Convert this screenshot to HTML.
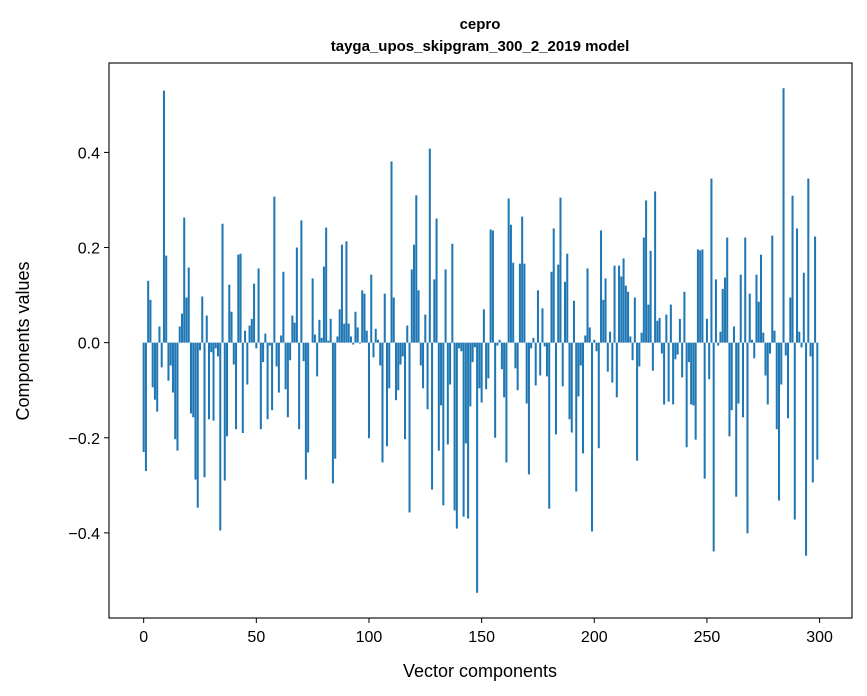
<!DOCTYPE html>
<html><head><meta charset="utf-8"><style>
body{margin:0;background:#fff;}
svg{display:block;font-family:"Liberation Sans","DejaVu Sans",sans-serif;}
</style></head><body>
<svg id="chart" width="867" height="696">
<rect x="0" y="0" width="867" height="696" fill="#fff"/>
<text x="480" y="29" text-anchor="middle" font-size="15" font-weight="bold">cepro</text>
<text x="480" y="51" text-anchor="middle" font-size="15" font-weight="bold">tayga_upos_skipgram_300_2_2019 model</text>
<g id="bars"></g>
<rect x="109" y="63" width="743" height="555" fill="none" stroke="#000" stroke-width="1.1"/>
<g id="xticks"></g>
<g id="yticks"></g>
<text x="480" y="677" text-anchor="middle" font-size="18">Vector components</text>
<text transform="translate(29,341) rotate(-90)" text-anchor="middle" font-size="18">Components values</text>
</svg>
<script>
const values = [
-0.23,-0.27,0.13,0.09,-0.094,-0.12,-0.145,0.034,-0.052,0.53,
0.183,-0.08,-0.048,-0.105,-0.203,-0.227,0.034,0.061,0.263,0.095,
0.158,-0.149,-0.157,-0.288,-0.347,-0.016,0.097,-0.283,0.057,-0.161,
-0.02,-0.164,-0.012,-0.029,-0.395,0.25,-0.29,-0.197,0.122,0.065,
-0.046,-0.182,0.185,0.187,-0.19,0.025,-0.088,0.036,0.05,0.124,
-0.012,0.156,-0.182,-0.041,0.019,-0.161,-0.006,-0.142,0.307,-0.05,
-0.105,0.015,0.149,-0.098,-0.157,-0.037,0.057,0.042,0.2,-0.182,
0.257,-0.039,-0.288,-0.231,0,0.135,0.017,-0.071,0.048,0.01,
0.16,0.242,0.004,0.05,-0.296,-0.244,0.013,0.07,0.206,0.04,
0.213,0.04,0.013,-0.004,0.065,0.032,-0.002,0.11,0.103,0.025,
-0.201,0.143,-0.031,0.029,0.006,-0.048,-0.252,0.103,-0.218,-0.096,
0.381,0.095,-0.121,-0.1,-0.046,-0.029,-0.203,0.036,-0.357,0.154,
0.206,0.31,0.11,-0.048,-0.096,0.059,-0.14,0.408,-0.309,0.133,
0.261,-0.227,-0.132,-0.342,0.154,-0.214,-0.088,0.208,-0.353,-0.391,
-0.012,-0.018,-0.366,-0.212,-0.37,-0.134,-0.041,-0.01,-0.526,-0.096,
-0.126,0.07,-0.098,-0.075,0.238,0.236,-0.2,-0.006,0.006,-0.056,
-0.115,-0.252,0.303,0.248,0.168,-0.054,-0.1,0.166,0.265,0.166,
-0.128,-0.277,-0.012,0.01,-0.09,0.11,-0.069,0.072,-0.008,-0.071,
-0.349,0.149,0.24,-0.193,0.164,0.305,-0.092,0.128,0.187,-0.161,
-0.189,0.088,-0.313,-0.113,-0.048,-0.233,0.015,0.156,0.032,-0.397,
0.006,-0.018,-0.222,0.236,0.09,0.135,-0.061,0.023,-0.084,0.162,
-0.115,0.162,0.139,0.177,0.12,0.107,0.013,-0.037,0.095,-0.248,
-0.05,0.021,0.221,0.299,0.08,0.193,-0.059,0.318,0.046,0.052,
-0.023,-0.13,0.059,-0.124,0.08,-0.13,-0.035,-0.025,0.05,-0.073,
0.107,-0.22,-0.041,-0.13,-0.132,-0.204,0.196,0.194,0.196,-0.286,
0.05,-0.077,0.345,-0.439,0.133,-0.006,0.023,0.113,0.137,0.221,
-0.197,-0.142,0.034,-0.324,-0.128,0.143,-0.157,0.221,-0.401,0.103,
0.006,-0.033,0.143,0.086,0.185,0.021,-0.069,-0.13,-0.023,0.225,
0.025,-0.182,-0.332,-0.088,0.535,-0.027,-0.159,0.095,0.309,-0.372,
0.24,0.023,-0.01,0.147,-0.448,0.345,-0.029,-0.294,0.223,-0.246
];
const xTicks = [0,50,100,150,200,250,300];
const yTicks = [-0.4,-0.2,0,0.2,0.4];
const yTickLabels = ["\u22120.4","\u22120.2","0.0","0.2","0.4"];

const NS="http://www.w3.org/2000/svg";
const X0=109,X1=852,Y0=63,Y1=618;
const xMin=-15.39,xMax=314.39,yMin=-0.579,yMax=0.588;
function sx(v){return X0+(v-xMin)/(xMax-xMin)*(X1-X0);}
function sy(v){return Y1-(v-yMin)/(yMax-yMin)*(Y1-Y0);}

const gb=document.getElementById('bars');
values.forEach((v,i)=>{
  const r=document.createElementNS(NS,'rect');
  const xl=sx(i-0.45), xr=sx(i+0.45);
  const ya=sy(Math.max(v,0)), yb=sy(Math.min(v,0));
  r.setAttribute('x',xl);r.setAttribute('width',xr-xl);
  r.setAttribute('y',ya);r.setAttribute('height',Math.max(yb-ya,0));
  r.setAttribute('fill','#1f77b4');
  
  
  gb.appendChild(r);
});
const gx=document.getElementById('xticks');
xTicks.forEach(t=>{
  const l=document.createElementNS(NS,'line');
  l.setAttribute('x1',sx(t));l.setAttribute('x2',sx(t));
  l.setAttribute('y1',Y1);l.setAttribute('y2',Y1+5);
  l.setAttribute('stroke','#000');
  
  
  gx.appendChild(l);
  const tx=document.createElementNS(NS,'text');
  tx.setAttribute('x',sx(t));tx.setAttribute('y',Y1+24);
  tx.setAttribute('text-anchor','middle');tx.setAttribute('font-size','16');
  tx.textContent=t;
  
  
  gx.appendChild(tx);
});
const gy=document.getElementById('yticks');
yTicks.forEach((t,i)=>{
  const l=document.createElementNS(NS,'line');
  l.setAttribute('x1',X0-5);l.setAttribute('x2',X0);
  l.setAttribute('y1',sy(t));l.setAttribute('y2',sy(t));
  l.setAttribute('stroke','#000');
  
  
  gy.appendChild(l);
  const tx=document.createElementNS(NS,'text');
  tx.setAttribute('x',X0-9);tx.setAttribute('y',sy(t)+6);
  tx.setAttribute('text-anchor','end');tx.setAttribute('font-size','16');
  tx.textContent=yTickLabels[i];
  
  
  gy.appendChild(tx);
});
</script>
</body></html>
